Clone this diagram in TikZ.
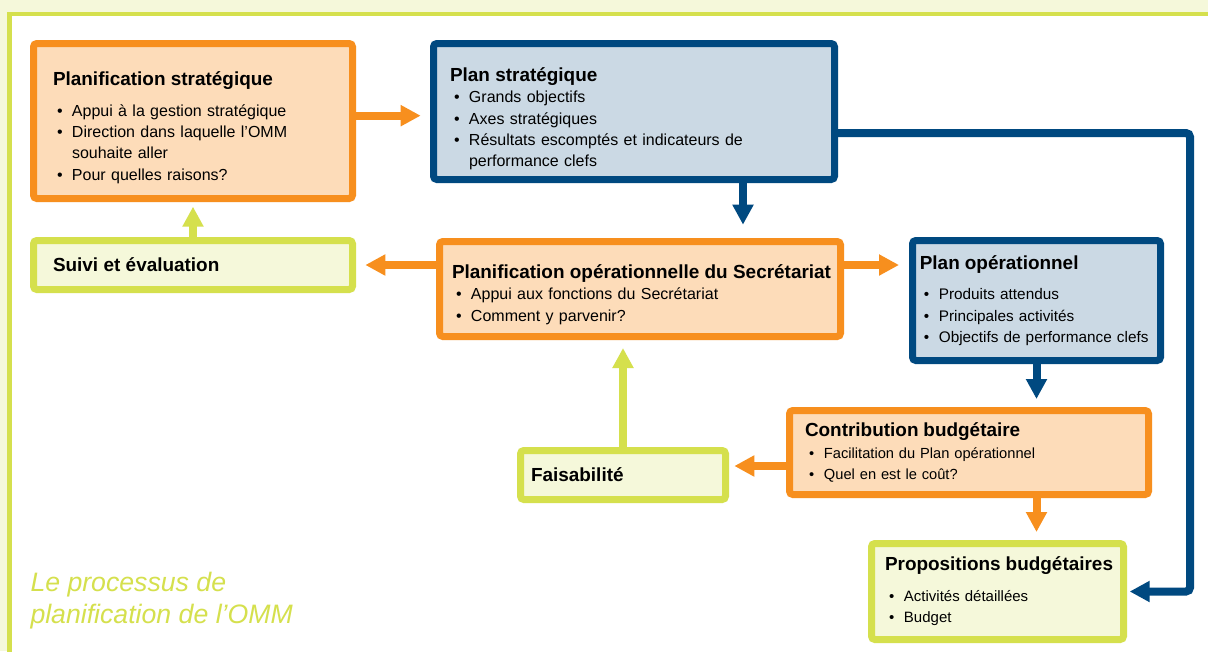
\documentclass[tikz,border=0pt]{standalone}
\usepackage{fontspec}
\setmainfont{Liberation Sans}
\usetikzlibrary{arrows.meta}

\definecolor{omorange}{RGB}{247,143,30}
\definecolor{omorangelt}{RGB}{253,220,185}
\definecolor{omblue}{RGB}{0,73,128}
\definecolor{ombluelt}{RGB}{203,217,228}
\definecolor{omgreen}{RGB}{213,224,77}
\definecolor{omgreenlt}{RGB}{245,248,218}

% title of a box, optional gap below it
\newcommand\boxttl[2][0pt]{{\fontsize{14.2}{17}\selectfont\bfseries\mbox{#2}\par}\vspace{#1}}
% one bullet line
\newcommand\bitem[1]{\par\hangindent=14.25pt\hangafter=1\noindent\hspace*{3pt}\makebox[11.25pt][l]{\textbullet}#1\par}
% push the text of a box down
\newcommand\toppad[1]{\vspace*{#1}\par}

\tikzset{every picture/.style={line width=0.75pt}}
\tikzset{
  pbox/.style={rounded corners=2.5pt, line width=5.25pt, inner sep=0pt, align=left, font=\fontsize{12}{16}\selectfont},
  orbox/.style={pbox, draw=omorange, fill=omorangelt},
  blbox/.style={pbox, draw=omblue, fill=ombluelt},
  grbox/.style={pbox, draw=omgreen, fill=omgreenlt},
  link/.style={line width=6pt, -{Triangle[length=15pt,width=15pt]}, shorten >=6pt},
  orlink/.style={link, draw=omorange},
  bllink/.style={link, draw=omblue},
  grlink/.style={link, draw=omgreen},
  captxt/.style={align=left, inner sep=0pt, text=omgreen, font=\fontsize{20}{23.5}\selectfont\itshape},
}

\begin{document}
\begin{tikzpicture}[x=0.75pt,y=0.75pt,yscale=-1,xscale=1]
\useasboundingbox (0,0) rectangle (1208,651);

%Shape: Frame
\fill[omgreenlt] (0,0) rectangle (1208,651);
\draw[omgreen, line width=3.5pt, fill=white] (9.5,14) rectangle (1230,670);

% Text Node
\node[orbox, minimum width=239.25pt, minimum height=116.25pt, text width=210pt] (planif) at (193,121)
  {\toppad{3pt}\boxttl[7pt]{Planification stratégique}\bitem{Appui à la gestion stratégique}\bitem{Direction dans laquelle l’OMM\newline souhaite aller}\bitem{Pour quelles raisons?}};
% Text Node
\node[blbox, minimum width=300.75pt, minimum height=102pt, text width=276pt] (planstrat) at (634,111.5)
  {\toppad{4.5pt}\boxttl{Plan stratégique}\bitem{Grands objectifs}\bitem{Axes stratégiques}\bitem{Résultats escomptés et indicateurs de\newline performance clefs}};
% Text Node
\node[grbox, minimum width=239.25pt, minimum height=36.75pt, text width=210pt] (suivi) at (193,265)
  {\boxttl{Suivi et évaluation}};
% Text Node
\node[orbox, minimum width=300.75pt, minimum height=71.25pt, text width=282pt] (planop) at (640,289)
  {\toppad{1.5pt}\boxttl{Planification opérationnelle du Secrétariat}\bitem{Appui aux fonctions du Secrétariat}\bitem{Comment y parvenir?}};
% Text Node
\node[blbox, minimum width=186pt, minimum height=90pt, text width=175pt, font=\fontsize{11.5}{16}\selectfont] (planoper) at (1036.5,300.5)
  {\boxttl[7pt]{Plan opérationnel}\bitem{Produits attendus}\bitem{Principales activités}\bitem{Objectifs de performance clefs}};
% Text Node
\node[orbox, minimum width=269.25pt, minimum height=63pt, text width=246pt, font=\fontsize{11}{16}\selectfont] (contrib) at (969,452.5)
  {\boxttl{Contribution budgétaire}\bitem{Facilitation du Plan opérationnel}\bitem{Quel en est le coût?}};
% Text Node
\node[grbox, minimum width=153.75pt, minimum height=36.75pt, text width=138pt] (faisab) at (623,475)
  {\boxttl{Faisabilité}};
% Text Node
\node[grbox, minimum width=189pt, minimum height=72pt, text width=168.75pt, font=\fontsize{11.25}{16}\selectfont] (propos) at (997.5,591.5)
  {\boxttl[7pt]{Propositions budgétaires}\bitem{Activités détaillées}\bitem{Budget}};
% Text Node
\node[captxt, anchor=north west] (caption) at (30,572) {Le processus de\\planification de l’OMM};

\coordinate (rt) at (1190,133);

%Straight Lines
\draw[orlink, shorten >=7pt] ([yshift=-4pt]planif.east) -- ([yshift=-4pt]planif.east -| planstrat.west);
\draw[bllink, shorten >=10pt] ([xshift=81.75pt]planstrat.south) -- ([xshift=81.75pt]planstrat.south |- planop.north);
\draw[bllink, shorten >=2pt, rounded corners=3pt] (planstrat.east |- rt) -- (rt) |- (propos.east);
\draw[grlink, shorten >=3.5pt] (suivi.north) -- (planif.south);
\draw[orlink, shorten >=7pt] (planop.west |- suivi.east) -- (suivi.east);
\draw[orlink, shorten >=7.5pt] (planop.east |- suivi.east) -- (planoper.west |- suivi.east);
\draw[bllink] (planoper.south) -- (planoper.south |- contrib.north);
\draw[orlink, shorten >=4pt] ([yshift=-6.75pt]contrib.west |- faisab.east) -- ([yshift=-6.75pt]faisab.east);
\draw[grlink] (faisab.north) -- (faisab.north |- planop.south);
\draw[orlink] (planoper.south |- contrib.south) -- (planoper.south |- propos.north);

\end{tikzpicture}
\end{document}
